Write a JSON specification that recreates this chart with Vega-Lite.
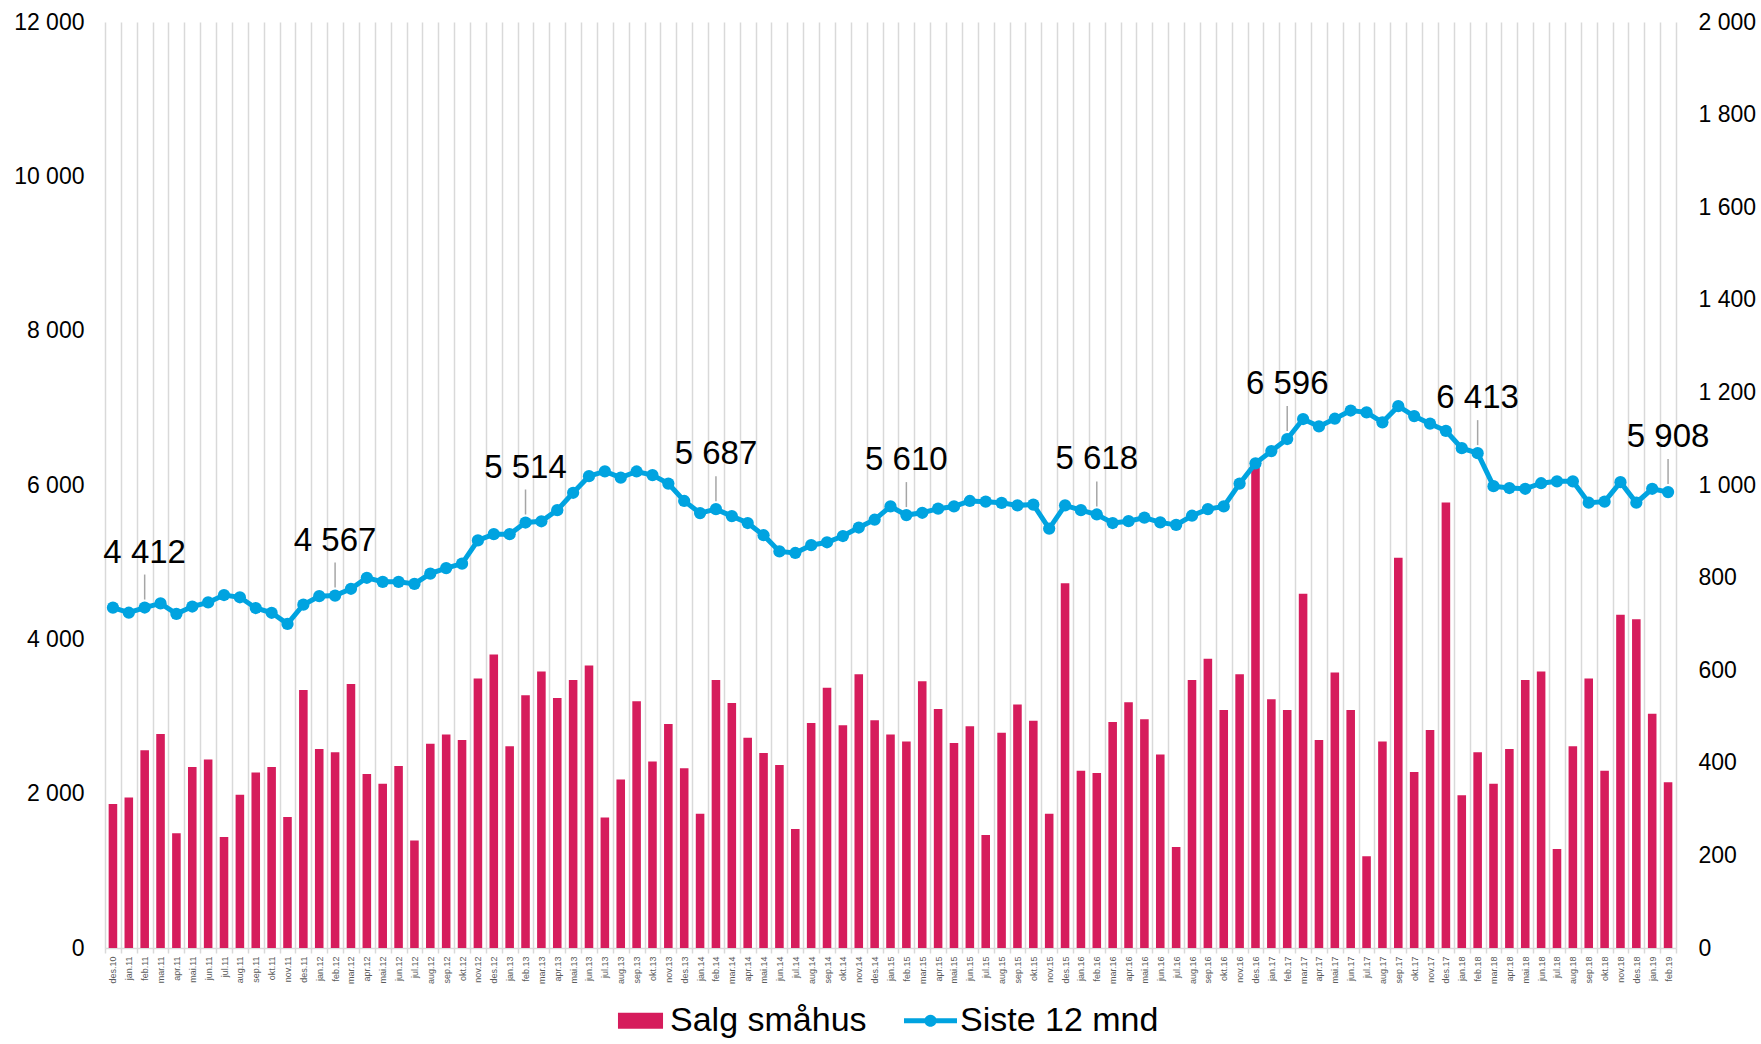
{
  "$schema": "https://vega.github.io/schema/vega-lite/v6.json",
  "width": 1571,
  "height": 926,
  "autosize": {"type": "none"},
  "padding": {"left": 105, "top": 22, "right": 85, "bottom": 96},
  "background": "white",
  "config": {
    "font": "Liberation Sans",
    "view": {"stroke": null},
    "locale": {"number": {"decimal": ",", "thousands": " ", "grouping": [3], "currency": ["", " kr"]}}
  },
  "data": {"values": [
    {"mnd": "des.10", "salg": 311, "siste12": 4410},
    {"mnd": "jan.11", "salg": 325, "siste12": 4345},
    {"mnd": "feb.11", "salg": 427, "siste12": 4412},
    {"mnd": "mar.11", "salg": 462, "siste12": 4465},
    {"mnd": "apr.11", "salg": 248, "siste12": 4330},
    {"mnd": "mai.11", "salg": 391, "siste12": 4425},
    {"mnd": "jun.11", "salg": 407, "siste12": 4478},
    {"mnd": "jul.11", "salg": 240, "siste12": 4574},
    {"mnd": "aug.11", "salg": 331, "siste12": 4545},
    {"mnd": "sep.11", "salg": 379, "siste12": 4406},
    {"mnd": "okt.11", "salg": 391, "siste12": 4344},
    {"mnd": "nov.11", "salg": 283, "siste12": 4200},
    {"mnd": "des.11", "salg": 557, "siste12": 4449},
    {"mnd": "jan.12", "salg": 430, "siste12": 4559},
    {"mnd": "feb.12", "salg": 423, "siste12": 4567},
    {"mnd": "mar.12", "salg": 570, "siste12": 4655},
    {"mnd": "apr.12", "salg": 376, "siste12": 4798},
    {"mnd": "mai.12", "salg": 355, "siste12": 4745},
    {"mnd": "jun.12", "salg": 393, "siste12": 4745},
    {"mnd": "jul.12", "salg": 232, "siste12": 4718},
    {"mnd": "aug.12", "salg": 441, "siste12": 4852},
    {"mnd": "sep.12", "salg": 461, "siste12": 4923},
    {"mnd": "okt.12", "salg": 449, "siste12": 4981},
    {"mnd": "nov.12", "salg": 582, "siste12": 5282},
    {"mnd": "des.12", "salg": 634, "siste12": 5363},
    {"mnd": "jan.13", "salg": 436, "siste12": 5363},
    {"mnd": "feb.13", "salg": 546, "siste12": 5514},
    {"mnd": "mar.13", "salg": 597, "siste12": 5530},
    {"mnd": "apr.13", "salg": 540, "siste12": 5674},
    {"mnd": "mai.13", "salg": 579, "siste12": 5899},
    {"mnd": "jun.13", "salg": 610, "siste12": 6114},
    {"mnd": "jul.13", "salg": 282, "siste12": 6176},
    {"mnd": "aug.13", "salg": 364, "siste12": 6095},
    {"mnd": "sep.13", "salg": 533, "siste12": 6175},
    {"mnd": "okt.13", "salg": 403, "siste12": 6128},
    {"mnd": "nov.13", "salg": 484, "siste12": 6018},
    {"mnd": "des.13", "salg": 388, "siste12": 5793},
    {"mnd": "jan.14", "salg": 290, "siste12": 5636},
    {"mnd": "feb.14", "salg": 579, "siste12": 5687},
    {"mnd": "mar.14", "salg": 529, "siste12": 5597},
    {"mnd": "apr.14", "salg": 454, "siste12": 5507},
    {"mnd": "mai.14", "salg": 421, "siste12": 5349},
    {"mnd": "jun.14", "salg": 395, "siste12": 5139},
    {"mnd": "jul.14", "salg": 257, "siste12": 5119},
    {"mnd": "aug.14", "salg": 486, "siste12": 5220},
    {"mnd": "sep.14", "salg": 562, "siste12": 5258},
    {"mnd": "okt.14", "salg": 481, "siste12": 5339},
    {"mnd": "nov.14", "salg": 591, "siste12": 5449},
    {"mnd": "des.14", "salg": 492, "siste12": 5550},
    {"mnd": "jan.15", "salg": 461, "siste12": 5722},
    {"mnd": "feb.15", "salg": 446, "siste12": 5610},
    {"mnd": "mar.15", "salg": 576, "siste12": 5640},
    {"mnd": "apr.15", "salg": 516, "siste12": 5693},
    {"mnd": "mai.15", "salg": 443, "siste12": 5722},
    {"mnd": "jun.15", "salg": 479, "siste12": 5793},
    {"mnd": "jul.15", "salg": 244, "siste12": 5784},
    {"mnd": "aug.15", "salg": 465, "siste12": 5769},
    {"mnd": "sep.15", "salg": 526, "siste12": 5736},
    {"mnd": "okt.15", "salg": 491, "siste12": 5746},
    {"mnd": "nov.15", "salg": 290, "siste12": 5435},
    {"mnd": "des.15", "salg": 788, "siste12": 5736},
    {"mnd": "jan.16", "salg": 383, "siste12": 5674},
    {"mnd": "feb.16", "salg": 378, "siste12": 5618},
    {"mnd": "mar.16", "salg": 488, "siste12": 5507},
    {"mnd": "apr.16", "salg": 531, "siste12": 5531},
    {"mnd": "mai.16", "salg": 494, "siste12": 5578},
    {"mnd": "jun.16", "salg": 418, "siste12": 5515},
    {"mnd": "jul.16", "salg": 218, "siste12": 5483},
    {"mnd": "aug.16", "salg": 579, "siste12": 5602},
    {"mnd": "sep.16", "salg": 625, "siste12": 5688},
    {"mnd": "okt.16", "salg": 514, "siste12": 5722},
    {"mnd": "nov.16", "salg": 591, "siste12": 6018},
    {"mnd": "des.16", "salg": 1038, "siste12": 6281},
    {"mnd": "jan.17", "salg": 537, "siste12": 6439},
    {"mnd": "feb.17", "salg": 514, "siste12": 6596},
    {"mnd": "mar.17", "salg": 765, "siste12": 6855},
    {"mnd": "apr.17", "salg": 449, "siste12": 6759},
    {"mnd": "mai.17", "salg": 595, "siste12": 6859},
    {"mnd": "jun.17", "salg": 514, "siste12": 6965},
    {"mnd": "jul.17", "salg": 198, "siste12": 6941},
    {"mnd": "aug.17", "salg": 446, "siste12": 6812},
    {"mnd": "sep.17", "salg": 843, "siste12": 7022},
    {"mnd": "okt.17", "salg": 380, "siste12": 6893},
    {"mnd": "nov.17", "salg": 471, "siste12": 6795},
    {"mnd": "des.17", "salg": 962, "siste12": 6702},
    {"mnd": "jan.18", "salg": 330, "siste12": 6477},
    {"mnd": "feb.18", "salg": 423, "siste12": 6413},
    {"mnd": "mar.18", "salg": 355, "siste12": 5985},
    {"mnd": "apr.18", "salg": 430, "siste12": 5961},
    {"mnd": "mai.18", "salg": 579, "siste12": 5951},
    {"mnd": "jun.18", "salg": 597, "siste12": 6023},
    {"mnd": "jul.18", "salg": 214, "siste12": 6047},
    {"mnd": "aug.18", "salg": 436, "siste12": 6047},
    {"mnd": "sep.18", "salg": 582, "siste12": 5770},
    {"mnd": "okt.18", "salg": 383, "siste12": 5784},
    {"mnd": "nov.18", "salg": 720, "siste12": 6037},
    {"mnd": "des.18", "salg": 710, "siste12": 5770},
    {"mnd": "jan.19", "salg": 506, "siste12": 5951},
    {"mnd": "feb.19", "salg": 358, "siste12": 5908}
  ]},
  "encoding": {
    "x": {
      "field": "mnd", "type": "ordinal", "sort": null,
      "scale": {"paddingInner": 0, "paddingOuter": 0},
      "axis": {
        "title": null, "labelAngle": -90, "labelFontSize": 9, "labelColor": "#595959",
        "labelPadding": 3, "tickBand": "extent", "grid": true, "gridColor": "#d9d9d9",
        "gridWidth": 1.5, "ticks": true, "tickColor": "#d9d9d9", "tickSize": 5, "tickWidth": 1.5,
        "domain": true, "domainColor": "#d9d9d9", "domainWidth": 1.5
      }
    }
  },
  "layer": [
    {
      "mark": {"type": "bar", "width": {"band": 0.54}},
      "encoding": {
        "y": {
          "field": "salg", "type": "quantitative",
          "scale": {"domain": [0, 2000], "nice": false},
          "axis": {
            "orient": "right", "title": null, "values": [0, 200, 400, 600, 800, 1000, 1200, 1400, 1600, 1800, 2000],
            "format": ",d", "labelFontSize": 23, "labelColor": "#000000", "labelPadding": 22,
            "ticks": false, "domain": false, "grid": false
          }
        },
        "color": {
          "datum": "Salg småhus", "type": "nominal",
          "scale": {"domain": ["Salg småhus", "Siste 12 mnd"], "range": ["#d61c5c", "#00a3e0"]},
          "legend": {
            "title": null, "orient": "none", "legendX": 509, "legendY": 972, "direction": "horizontal",
            "labelFontSize": 34, "labelColor": "#000000", "labelLimit": 600,
            "symbolSize": 2809, "columnPadding": 37, "labelOffset": 3, "padding": 0,
            "encode": {
              "symbols": {
                "update": {
                  "shape": {"signal": "datum.value === 'Salg småhus' ? 'M-0.85,-0.3H0.85V0.3H-0.85Z' : 'M-1,-0.09H1V0.09H-1Z M-0.23,0A0.23,0.23 0 1,1 0.23,0A0.23,0.23 0 1,1 -0.23,0Z'"},
                  "fill": {"signal": "datum.value === 'Salg småhus' ? '#d61c5c' : '#00a3e0'"},
                  "strokeWidth": {"value": 0},
                  "opacity": {"value": 1}
                }
              }
            }
          }
        }
      }
    },
    {
      "encoding": {
        "y": {
          "field": "siste12", "type": "quantitative",
          "scale": {"domain": [0, 12000], "nice": false},
          "axis": {
            "orient": "left", "title": null, "values": [0, 2000, 4000, 6000, 8000, 10000, 12000],
            "format": ",d", "labelFontSize": 23, "labelColor": "#000000", "labelPadding": 21,
            "ticks": false, "domain": false, "grid": false
          }
        }
      },
      "layer": [
        {
          "mark": {"type": "line", "color": "#00a3e0", "strokeWidth": 5,
                   "point": {"filled": true, "size": 150, "color": "#00a3e0"}}
        },
        {
          "transform": [{"filter": "indexof(datum.mnd, 'feb') === 0"}],
          "mark": {"type": "rule", "color": "#a6a6a6", "strokeWidth": 1.5, "yOffset": -8, "y2Offset": -33},
          "encoding": {"y2": {"field": "siste12"}}
        },
        {
          "transform": [{"filter": "indexof(datum.mnd, 'feb') === 0"}],
          "mark": {"type": "text", "fontSize": 33, "color": "#000000", "baseline": "alphabetic", "dy": -45},
          "encoding": {"text": {"field": "siste12", "type": "quantitative", "format": ",d"}}
        }
      ]
    }
  ],
  "resolve": {"scale": {"y": "independent"}}
}
